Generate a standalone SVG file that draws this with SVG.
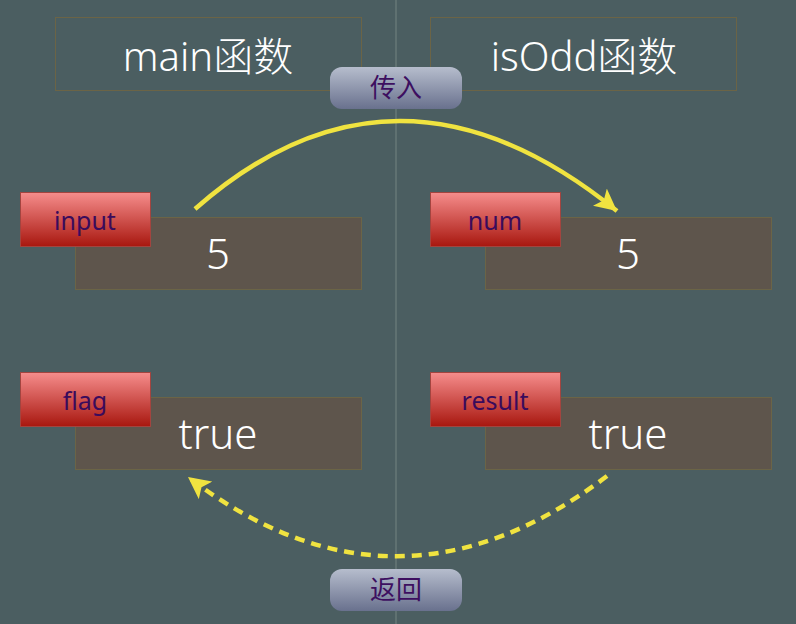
<svg xmlns="http://www.w3.org/2000/svg" width="796" height="624" viewBox="0 0 796 624">
<defs>
<linearGradient id="gRed" x1="0" y1="0" x2="0" y2="1">
<stop offset="0" stop-color="#f68d8c"/>
<stop offset="1" stop-color="#a8170f"/>
</linearGradient>
<linearGradient id="gPill" x1="0" y1="0" x2="0" y2="1">
<stop offset="0" stop-color="#b6bdcd"/>
<stop offset="1" stop-color="#69718e"/>
</linearGradient>
<marker id="ah" markerUnits="userSpaceOnUse" markerWidth="24" markerHeight="22" viewBox="0 0 24 22" refX="22" refY="11" orient="auto">
<path d="M0,0 L22,11 L0,22 L5,11 Z" fill="#f0e340"/>
</marker>
<style>
.bg{fill:#4b5e61}
.title{fill:none;stroke:#6b6446;stroke-width:1}
.ttxt{font-family:"Noto Sans","Noto Sans CJK SC",sans-serif;font-weight:300;font-size:40px;fill:#ffffff;text-anchor:middle}
.val{fill:#5e554c;stroke:#6b6446;stroke-width:1}
.vtxt{font-family:"Noto Sans","Noto Sans CJK SC",sans-serif;font-weight:300;font-size:42px;fill:#ffffff;text-anchor:middle}
.lab{fill:url(#gRed);stroke:#a3443f;stroke-width:1}
.ltxt{font-family:"Noto Sans","Noto Sans CJK SC",sans-serif;font-weight:400;font-size:25px;fill:#3a0b5c;text-anchor:middle}
.pill{fill:url(#gPill)}
.ptxt{font-family:"Noto Sans CJK SC",sans-serif;font-weight:400;font-size:26px;fill:#3d0f60;text-anchor:middle}
.arr{fill:none;stroke:#f0e340;stroke-width:4.5}
</style>
</defs>
<rect class="bg" x="0" y="0" width="796" height="624"/>
<line x1="396" y1="0" x2="396" y2="624" stroke="#5f7171" stroke-width="2"/>

<g id="title-main">
<rect class="title" x="55.5" y="17.5" width="306" height="73"/>
<text class="ttxt" x="208" y="71">main函数</text>
</g>
<g id="title-isodd">
<rect class="title" x="430.5" y="17.5" width="306" height="73"/>
<text class="ttxt" x="584" y="71">isOdd函数</text>
</g>

<g id="var-input">
<rect class="val" x="75.5" y="217.5" width="286" height="72"/>
<text class="vtxt" x="218" y="269">5</text>
<rect class="lab" x="20.5" y="192.5" width="130" height="54"/>
<text class="ltxt" x="85" y="230">input</text>
</g>
<g id="var-num">
<rect class="val" x="485.5" y="217.5" width="286" height="72"/>
<text class="vtxt" x="628" y="269">5</text>
<rect class="lab" x="430.5" y="192.5" width="130" height="54"/>
<text class="ltxt" x="495" y="230">num</text>
</g>
<g id="var-flag">
<rect class="val" x="75.5" y="397.5" width="286" height="72"/>
<text class="vtxt" x="218" y="449">true</text>
<rect class="lab" x="20.5" y="372.5" width="130" height="54"/>
<text class="ltxt" x="85" y="410">flag</text>
</g>
<g id="var-result">
<rect class="val" x="485.5" y="397.5" width="286" height="72"/>
<text class="vtxt" x="628" y="449">true</text>
<rect class="lab" x="430.5" y="372.5" width="130" height="54"/>
<text class="ltxt" x="495" y="410">result</text>
</g>

<g id="connectors">
<path class="arr" d="M195,209 Q396,32 617,211" marker-end="url(#ah)"/>
<path class="arr" d="M607,476 Q396,636 188,477" stroke-dasharray="10 7" marker-end="url(#ah)"/>
</g>

<g id="label-pass">
<rect class="pill" x="330" y="67" width="132" height="42" rx="12"/>
<text class="ptxt" x="396" y="97">传入</text>
</g>
<g id="label-return">
<rect class="pill" x="330" y="569" width="132" height="42" rx="12"/>
<text class="ptxt" x="396" y="599">返回</text>
</g>
</svg>
